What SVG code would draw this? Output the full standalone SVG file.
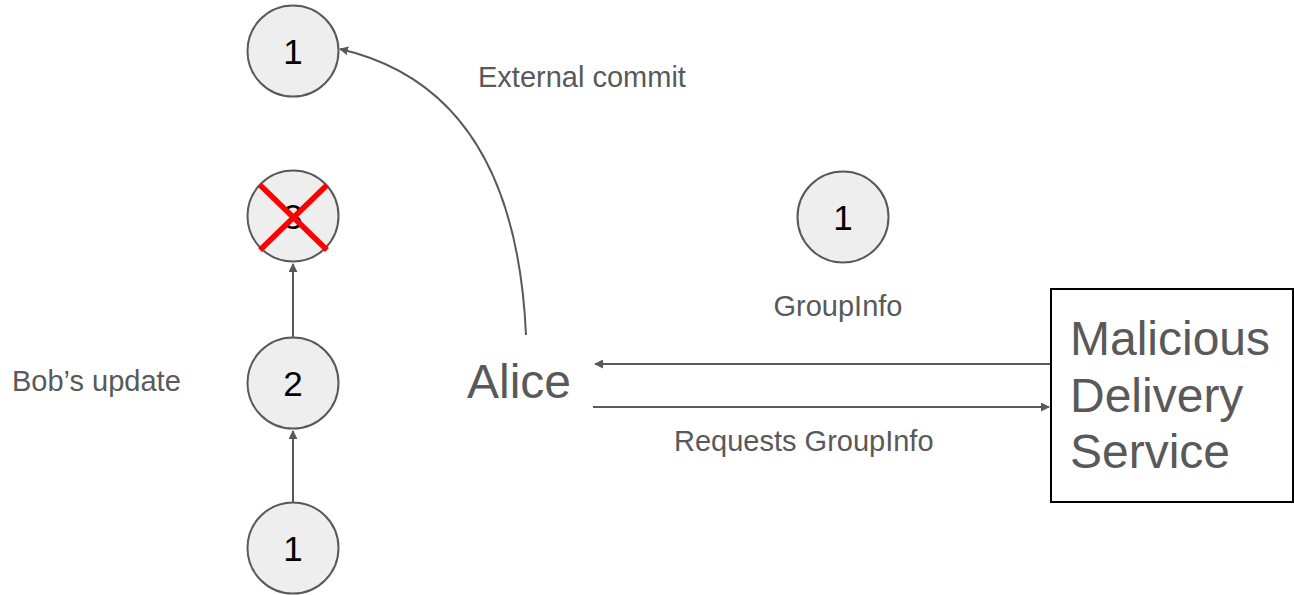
<svg xmlns="http://www.w3.org/2000/svg" width="1294" height="595" viewBox="0 0 1294 595">
<style>
.node circle{fill:#eeeeee;stroke:#595959;stroke-width:2}
.num{font-family:"Liberation Sans",Arial,sans-serif;font-size:35px;fill:#000;text-anchor:middle}
.lbl{font-family:"Liberation Sans",Arial,sans-serif;font-size:29px;fill:#595959}
.big{font-family:"Liberation Sans",Arial,sans-serif;font-size:48px;fill:#595959}
.conn{stroke:#595959;stroke-width:2;fill:none}
</style>
<defs>
<marker id="ah" viewBox="0 0 10 10" refX="9" refY="5" markerWidth="9" markerHeight="9" orient="auto" markerUnits="userSpaceOnUse">
<path d="M0,0 L10,5 L0,10 z" fill="#595959"/>
</marker>
</defs>
<rect width="1294" height="595" fill="#fff"/>
<g id="connectors">
<path class="conn" d="M293,503 L293,431" marker-end="url(#ah)"/>
<path class="conn" d="M293,338 L293,264" marker-end="url(#ah)"/>
<path class="conn" d="M526,335 C520,200 475,80 340,49" marker-end="url(#ah)"/>
<path class="conn" d="M1051,364 L595,364" marker-end="url(#ah)"/>
<path class="conn" d="M593,407 L1049,407" marker-end="url(#ah)"/>
</g>
<g id="n-top1" class="node"><circle cx="293" cy="51" r="45.5"/><text class="num" x="293" y="64">1</text></g>
<g id="n-3" class="node"><circle cx="293" cy="216" r="45.5"/><text class="num" x="293" y="229">3</text>
<path d="M260,185 L327,250 M327,185 L260,250" stroke="#ff0000" stroke-width="5.5"/></g>
<g id="n-2" class="node"><circle cx="293" cy="383" r="45.5"/><text class="num" x="293" y="396">2</text></g>
<g id="n-bot1" class="node"><circle cx="293" cy="548" r="45.5"/><text class="num" x="293" y="561">1</text></g>
<g id="n-mid1" class="node"><circle cx="843" cy="217" r="45.5"/><text class="num" x="843" y="230">1</text></g>
<g id="alice"><text class="big" x="467" y="398">Alice</text></g>
<g id="ds"><rect x="1051" y="289" width="242" height="213" fill="#fff" stroke="#000" stroke-width="2"/>
<text class="big" x="1070" y="355">Malicious</text>
<text class="big" x="1070" y="412">Delivery</text>
<text class="big" x="1070" y="468">Service</text></g>
<g id="labels">
<text class="lbl" x="478" y="87">External commit</text>
<text class="lbl" x="838" y="316" text-anchor="middle">GroupInfo</text>
<text class="lbl" x="674" y="451">Requests GroupInfo</text>
<text class="lbl" x="12" y="391">Bob’s update</text>
</g>
</svg>
